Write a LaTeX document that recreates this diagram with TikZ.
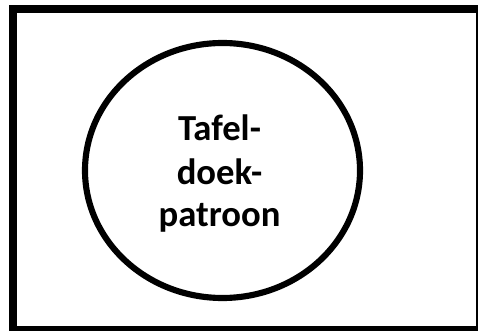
\documentclass[tikz,border=0pt]{standalone}
\usepackage{fontspec}
\setmainfont{Carlito}
\usetikzlibrary{shapes.geometric}
\begin{document}
\begin{tikzpicture}[x=0.75pt,y=-0.75pt,
  lbl/.style={anchor=base,inner sep=0pt,font=\bfseries\fontsize{27.5pt}{32pt}\selectfont}]
\useasboundingbox (0,0) rectangle (478,331);
\draw[line width=6pt] (12.5,9.5) rectangle (480,329.5);
\node[draw,line width=4.6pt,ellipse,minimum width=275pt*0.75,minimum height=255pt*0.75,inner sep=0pt] (c) at (222.5,170.5) {};
\node[lbl] (t1) at (219.5,141) {Tafel-};
\node[lbl] (t2) at (219.5,184.5) {doek-};
\node[lbl] (t3) at (219.5,227) {patroon};
\end{tikzpicture}
\end{document}
